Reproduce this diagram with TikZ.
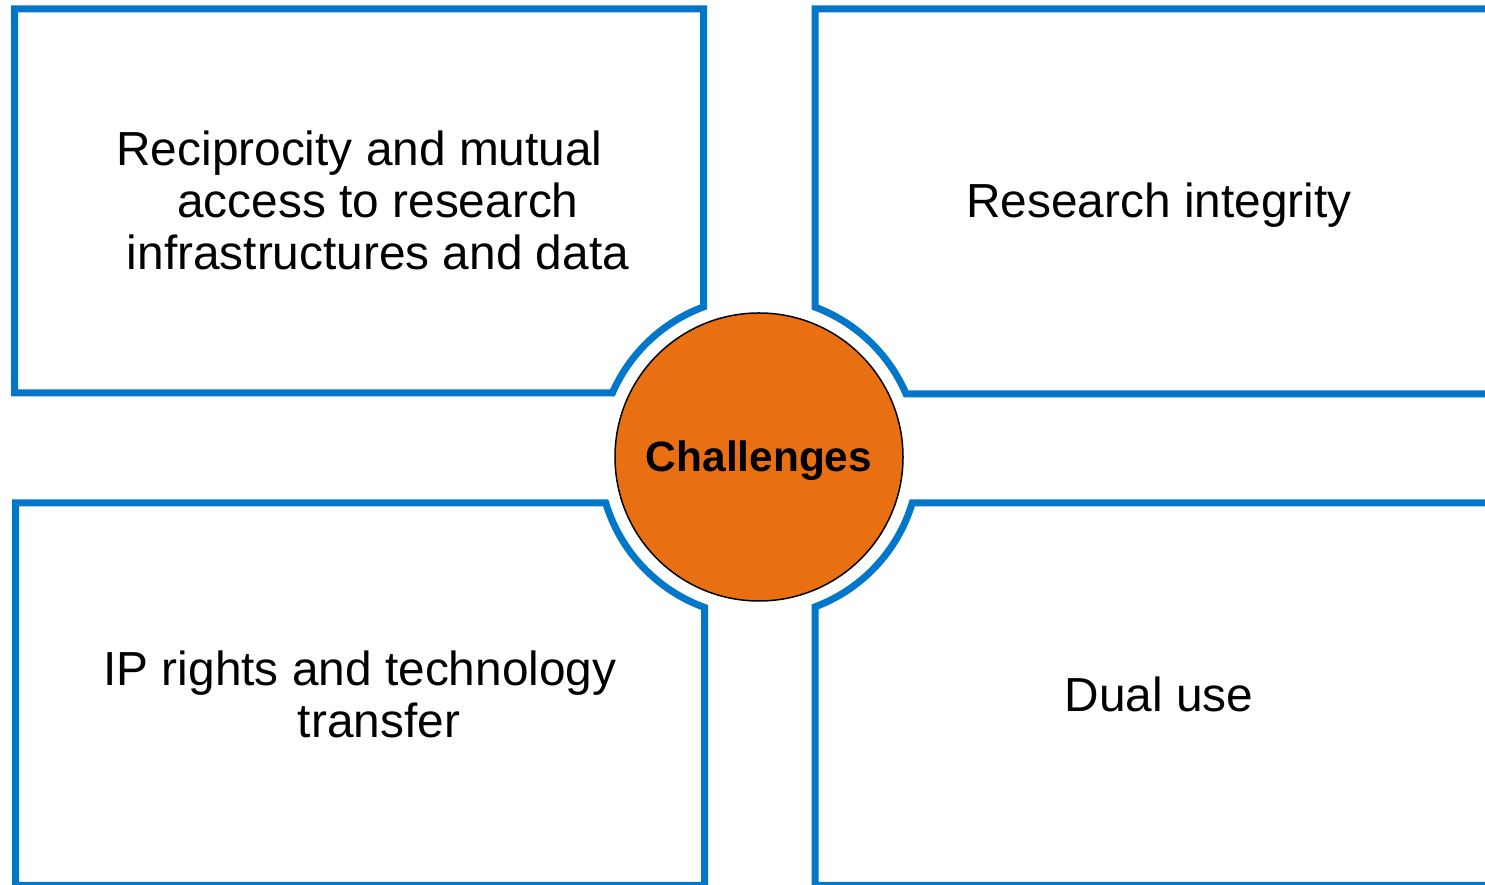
\documentclass[tikz,border=0pt]{standalone}
\usepackage{fontspec}
\setmainfont{Liberation Sans}
\usetikzlibrary{calc}
\definecolor{boxblue}{RGB}{0,119,200}
\definecolor{hubfill}{RGB}{233,112,18}

\begin{document}
\begin{tikzpicture}[x=1pt,y=1pt,
   quarter/.style={draw=boxblue,line width=7pt},
   topic/.style={align=center,font=\fontsize{47.8}{52}\selectfont},
   hub/.style={draw,circle,fill=hubfill,line width=1.5pt,minimum size=288pt,
      inner sep=0pt,text depth=2pt,font=\fontsize{42.4}{48}\selectfont\bfseries}]
\useasboundingbox (0,0) rectangle (1485,885);
\coordinate (c) at (759,428);
% the four boxes, each one cut round the hub
\draw[quarter] (703.5,876) -| (14.5,492) -- ($(c)+(156.4:160)$)
   arc[start angle=156.4,end angle=110.3,radius=160] -- cycle;
\draw[quarter] (1495,491) -- ($(c)+(23.2:160)$)
   arc[start angle=23.2,end angle=69.5,radius=160] -- (815,876) -- (1495,876);
\draw[quarter] (15.5,382) -- ($(c)+(196.7:160)$)
   arc[start angle=196.7,end angle=250.1,radius=160] -- (704.5,-0.5) -- (15.5,-0.5) -- cycle;
\draw[quarter] (1495,382) -- ($(c)+(343.3:160)$)
   arc[start angle=343.3,end angle=290.5,radius=160] -- (815,-0.5) -- (1495,-0.5);
\node[hub] (challenges) at (c) {Challenges};
\node[topic] (access) at (378,685) {Reciprocity and mutual\hspace*{37pt}\\access to research\\infrastructures and data};
\node[topic] (integrity) at (1159,680) {Research integrity};
\node[topic] (iprights) at (379,191) {IP rights and technology\hspace*{38pt}\\transfer};
\node[topic] (dualuse) at (1159,191) {Dual use};
\end{tikzpicture}
\end{document}
